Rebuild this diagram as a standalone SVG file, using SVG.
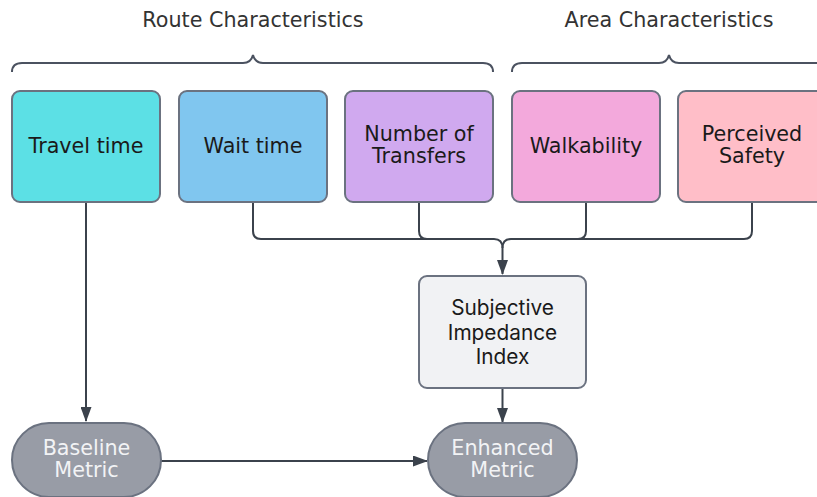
<svg xmlns="http://www.w3.org/2000/svg" width="817" height="497" viewBox="0 0 817 497">
<defs>
<marker id="arr" markerWidth="15" markerHeight="11" refX="14" refY="5.5" viewBox="0 0 15 11" orient="auto" markerUnits="userSpaceOnUse">
<path d="M0,0 L15,5.5 L0,11 Z" fill="#3b424c"/>
</marker>
<style>
.box{stroke:#6b7280;stroke-width:2}
.t{font-family:"DejaVu Sans",sans-serif;font-size:20.7px;fill:#1a1a1a;text-anchor:middle}
.h{font-family:"DejaVu Sans",sans-serif;font-size:20.7px;fill:#333;text-anchor:middle}
.w{font-family:"DejaVu Sans",sans-serif;font-size:20.7px;fill:#f2f3f5;text-anchor:middle}
.i{font-family:Inter,sans-serif;font-size:20.8px;fill:#1a1a1a;text-anchor:middle}
.c{fill:none;stroke:#3b424c;stroke-width:2}
.br{fill:none;stroke:#4b5260;stroke-width:2}
</style>
</defs>
<rect width="817" height="497" fill="#fff"/>
<g id="labels">
<text class="h" x="253" y="27">Route Characteristics</text>
<text class="h" x="669" y="27">Area Characteristics</text>
<path class="br" d="M12,72 Q12,63 22,63 H243 Q251,63 253,55 Q255,63 263,63 H483 Q493,63 493,72"/>
<path class="br" d="M512,72 Q512,63 522,63 H659 Q667,63 669,55 Q671,63 679,63 H816 Q826,63 826,72"/>
</g>
<g id="connectors">
<path class="c" d="M86,202 V421" marker-end="url(#arr)"/>
<path class="c" d="M161,461 H427" marker-end="url(#arr)"/>
<path class="c" d="M502.5,388 V422" marker-end="url(#arr)"/>
<path class="c" d="M253,202 V231 Q253,239 261,239 H494 Q502.5,239 502.5,248 V274" marker-end="url(#arr)"/>
<path class="c" d="M419,202 V231 Q419,239 427,239 H494"/>
<path class="c" d="M586,202 V231 Q586,239 578,239 H511 Q502.5,239 502.5,248"/>
<path class="c" d="M752,202 V231 Q752,239 744,239 H578"/>
</g>
<g id="travel"><rect class="box" x="12" y="91" width="148" height="111" rx="8" fill="#5ce0e5"/><text class="t" x="86" y="152.5">Travel time</text></g>
<g id="wait"><rect class="box" x="179" y="91" width="148" height="111" rx="8" fill="#80c6ef"/><text class="t" x="253" y="152.5">Wait time</text></g>
<g id="transfers"><rect class="box" x="345" y="91" width="148" height="111" rx="8" fill="#d0a9ef"/><text class="t" x="419" y="141">Number of</text><text class="t" x="419" y="163">Transfers</text></g>
<g id="walkability"><rect class="box" x="512" y="91" width="148" height="111" rx="8" fill="#f3a9dc"/><text class="t" x="586" y="152.5">Walkability</text></g>
<g id="safety"><rect class="box" x="678" y="91" width="148" height="111" rx="8" fill="#ffbec8"/><text class="t" x="752" y="141">Perceived</text><text class="t" x="752" y="163">Safety</text></g>
<g id="impedance"><rect class="box" x="419" y="276" width="167" height="112" rx="8" fill="#f1f2f4"/><text class="i" x="502.5" y="315">Subjective</text><text class="i" x="502.5" y="339.5">Impedance</text><text class="i" x="502.5" y="364">Index</text></g>
<g id="baseline"><rect class="box" x="12" y="423" width="149" height="74" rx="37" fill="#989ca6"/><text class="w" x="86.5" y="455">Baseline</text><text class="w" x="86.5" y="477">Metric</text></g>
<g id="enhanced"><rect class="box" x="428" y="423" width="149" height="74" rx="37" fill="#989ca6"/><text class="w" x="502.5" y="455">Enhanced</text><text class="w" x="502.5" y="477">Metric</text></g>
</svg>
